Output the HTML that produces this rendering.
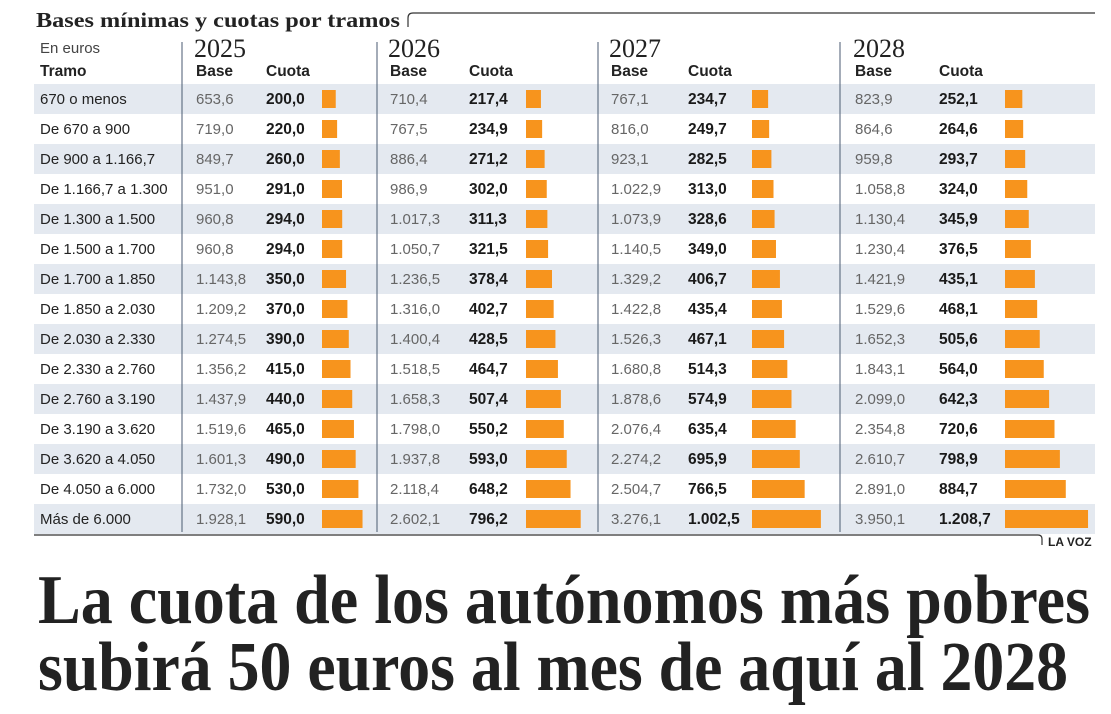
<!DOCTYPE html>
<html><head><meta charset="utf-8"><style>
html,body{margin:0;padding:0;background:#fff;}
svg{display:block;}
.lab{font-family:"Liberation Sans",sans-serif;font-size:15px;fill:#222;}
.base{font-family:"Liberation Sans",sans-serif;font-size:15px;fill:#666;}
.cuota{font-family:"Liberation Sans",sans-serif;font-size:15.5px;font-weight:bold;fill:#1a1a1a;}
.hdr{font-family:"Liberation Sans",sans-serif;font-size:15.5px;font-weight:bold;fill:#222;}
.year{font-family:"Liberation Serif",serif;font-size:26px;fill:#222;}
</style></head><body>
<svg id="chart" width="1111" height="714" viewBox="0 0 1111 714">
<text x="36" y="27" font-family="Liberation Serif,serif" font-weight="bold" font-size="21" fill="#222" textLength="364" lengthAdjust="spacingAndGlyphs">Bases mínimas y cuotas por tramos</text>
<path d="M408,27 V18 Q408,13 413,13 H1095" fill="none" stroke="#333" stroke-width="1.2"/>
<text x="40" y="53" font-family="Liberation Sans,sans-serif" font-size="15" fill="#444">En euros</text>
<text x="40" y="76" class="hdr">Tramo</text>
<g id="rows"></g>
<path d="M34,535 H1038 Q1042,535 1042,539 V545" fill="none" stroke="#333" stroke-width="1.2"/>
<text x="1048" y="546" font-family="Liberation Sans,sans-serif" font-weight="bold" font-size="12" fill="#222">LA VOZ</text>
<text x="38" y="623" font-family="Liberation Serif,serif" font-weight="bold" font-size="70" fill="#222" textLength="1052" lengthAdjust="spacingAndGlyphs">La cuota de los autónomos más pobres</text>
<text x="38" y="690" font-family="Liberation Serif,serif" font-weight="bold" font-size="70" fill="#222" textLength="1030" lengthAdjust="spacingAndGlyphs">subirá 50 euros al mes de aquí al 2028</text>
</svg>
<script>
const tramos=["670 o menos","De 670 a 900","De 900 a 1.166,7","De 1.166,7 a 1.300","De 1.300 a 1.500","De 1.500 a 1.700","De 1.700 a 1.850","De 1.850 a 2.030","De 2.030 a 2.330","De 2.330 a 2.760","De 2.760 a 3.190","De 3.190 a 3.620","De 3.620 a 4.050","De 4.050 a 6.000","Más de 6.000"];
const years=["2025","2026","2027","2028"];
const base2025=[653.6,719.0,849.7,951.0,960.8,960.8,1143.8,1209.2,1274.5,1356.2,1437.9,1519.6,1601.3,1732.0,1928.1];
const cuota2025=[200.0,220.0,260.0,291.0,294.0,294.0,350.0,370.0,390.0,415.0,440.0,465.0,490.0,530.0,590.0];
const base2026=[710.4,767.5,886.4,986.9,1017.3,1050.7,1236.5,1316.0,1400.4,1518.5,1658.3,1798.0,1937.8,2118.4,2602.1];
const cuota2026=[217.4,234.9,271.2,302.0,311.3,321.5,378.4,402.7,428.5,464.7,507.4,550.2,593.0,648.2,796.2];
const base2027=[767.1,816.0,923.1,1022.9,1073.9,1140.5,1329.2,1422.8,1526.3,1680.8,1878.6,2076.4,2274.2,2504.7,3276.1];
const cuota2027=[234.7,249.7,282.5,313.0,328.6,349.0,406.7,435.4,467.1,514.3,574.9,635.4,695.9,766.5,1002.5];
const base2028=[823.9,864.6,959.8,1058.8,1130.4,1230.4,1421.9,1529.6,1652.3,1843.1,2099.0,2354.8,2610.7,2891.0,3950.1];
const cuota2028=[252.1,264.6,293.7,324.0,345.9,376.5,435.1,468.1,505.6,564.0,642.3,720.6,798.9,884.7,1208.7];
const bases=[base2025,base2026,base2027,base2028];
const cuotas=[cuota2025,cuota2026,cuota2027,cuota2028];

const NS="http://www.w3.org/2000/svg";
const g=document.getElementById('rows');
const divX=[182,377,598,840], baseX=[196,390,611,855], cuotaX=[266,469,688,939], barX=[322,526,752,1005];
const rowTop=i=>84+i*30;
const barW=v=>v*0.0687;
function fmt(v){let s=v.toFixed(1).replace('.',',');let [a,b]=s.split(',');a=a.replace(/\B(?=(\d{3})+(?!\d))/g,'.');return a+','+b;}
function mk(tag,attrs,parent){const e=document.createElementNS(NS,tag);for(const k in attrs)e.setAttribute(k,attrs[k]);(parent||g).appendChild(e);return e;}
tramos.forEach((t,i)=>{
  if(i%2===0){const r=mk('rect',{x:34,y:rowTop(i),width:1061,height:30,fill:'#e4e9f0'});
    
    }
});
years.forEach((y,j)=>{
  const l=mk('line',{x1:divX[j],x2:divX[j],y1:42,y2:532,stroke:'#4a5a70','stroke-width':1});
  
  
  const yt=mk('text',{x:baseX[j]-2,y:57,class:'year'});yt.textContent=y;
  
  
  const bh=mk('text',{x:baseX[j],y:76,class:'hdr'});bh.textContent='Base';
  
  
  const ch=mk('text',{x:cuotaX[j],y:76,class:'hdr'});ch.textContent='Cuota';
  
  
});
tramos.forEach((t,i)=>{
  const cy=rowTop(i)+20;
  const lt=mk('text',{x:40,y:cy,class:'lab'});lt.textContent=t;
  
  
  years.forEach((y,j)=>{
    const b=mk('text',{x:baseX[j],y:cy,class:'base'});b.textContent=fmt(bases[j][i]);
    
    
    const c=mk('text',{x:cuotaX[j],y:cy,class:'cuota'});c.textContent=fmt(cuotas[j][i]);
    
    
    const r=mk('rect',{x:barX[j],y:rowTop(i)+6,width:barW(cuotas[j][i]),height:18,fill:'#f7941d'});
    
    
  });
});
</script>
</body></html>
